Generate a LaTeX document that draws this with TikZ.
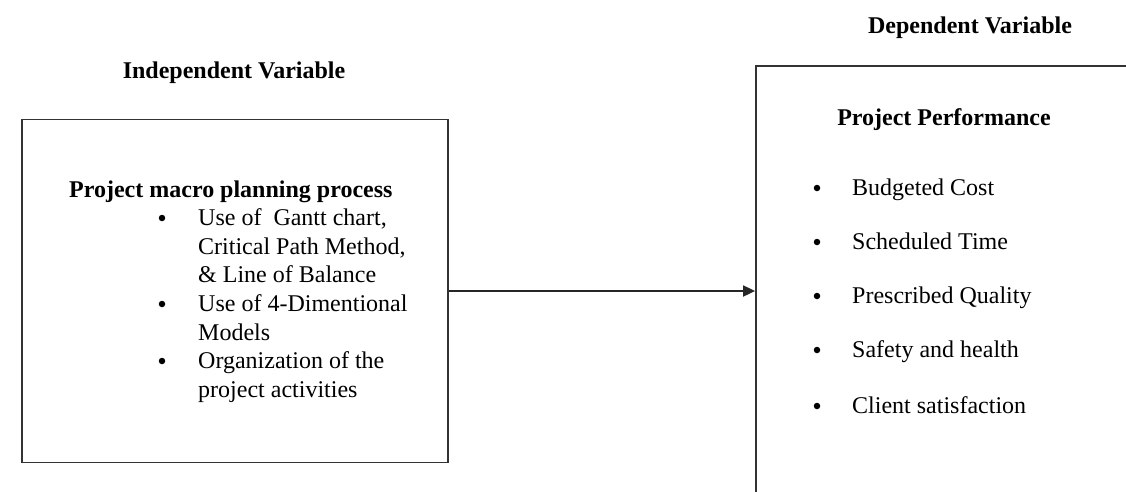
\documentclass[tikz,border=0pt]{standalone}
\usepackage{fontspec}
\setmainfont{Liberation Serif}
\usetikzlibrary{arrows.meta}
\begin{document}
\begin{tikzpicture}[x=1pt,y=-1pt,
  txt/.style={inner sep=0pt, font=\fontsize{24}{28.7}\selectfont, anchor=base west},
  hdr/.style={inner sep=0pt, font=\fontsize{24}{28.7}\selectfont\bfseries, anchor=base},
  bul/.style={circle, fill=black, inner sep=0pt, minimum size=6.5pt},
  boxst/.style={draw=black!80, line width=1.8pt, inner sep=0pt},
  arr/.style={draw=black!85, line width=1.8pt, -{Triangle[length=12pt,width=11pt]}}]
\useasboundingbox (0,0) rectangle (1126,491);
\begin{scope}
\clip (0,0) rectangle (1126,491);
% boxes
\node[boxst, minimum width=426pt, minimum height=343pt] (lbox) at (235,291) {};
\node[boxst, minimum width=420pt, minimum height=460pt] (rbox) at (966,296) {};
\end{scope}
% arrow
\draw[arr] (lbox.east) -- (rbox.west |- lbox.east);
% headers
\node[hdr] (ih) at (234,78) {Independent Variable};
\node[hdr] (dh) at (970,33) {Dependent Variable};
% left content
\node[txt, font=\fontsize{24}{28.7}\selectfont\bfseries] (lt) at (69,197) {Project macro planning process};
\node[bul] (b1) at (162,218) {};
\node[txt] (l1) at (198,225) {Use of\ \ Gantt chart,};
\node[txt] (l2) at (198,254) {Critical Path Method,};
\node[txt] (l3) at (198,282) {\& Line of Balance};
\node[bul] (b2) at (162,304) {};
\node[txt] (l4) at (198,311) {Use of 4-Dimentional};
\node[txt] (l5) at (198,340) {Models};
\node[bul] (b3) at (162,361) {};
\node[txt] (l6) at (198,368) {Organization of the};
\node[txt] (l7) at (198,397) {project activities};
% right content
\node[hdr] (rt) at (944,125) {Project Performance};
\node[bul] (c1) at (817,188) {};
\node[txt] (r1) at (852,195) {Budgeted Cost};
\node[bul] (c2) at (817,242) {};
\node[txt] (r2) at (852,249) {Scheduled Time};
\node[bul] (c3) at (817,296) {};
\node[txt] (r3) at (852,303) {Prescribed Quality};
\node[bul] (c4) at (817,350) {};
\node[txt] (r4) at (852,357) {Safety and health};
\node[bul] (c5) at (817,406) {};
\node[txt] (r5) at (852,413) {Client satisfaction};
\end{tikzpicture}
\end{document}
